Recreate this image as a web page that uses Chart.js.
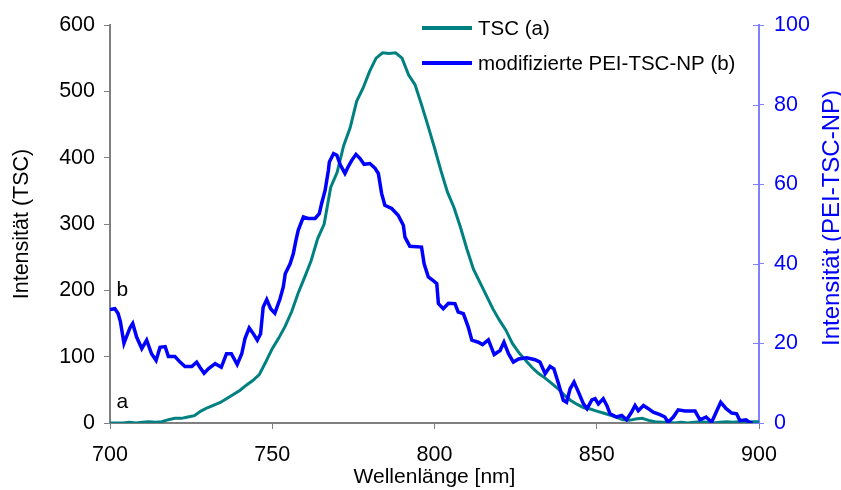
<!DOCTYPE html>
<html>
<head>
<meta charset="utf-8">
<script src="https://cdn.jsdelivr.net/npm/chart.js@4.4.1/dist/chart.umd.min.js"></script>
<style>
  body { margin: 0; background: #fff; }
  #wrap { width: 841px; height: 490px; }
</style>
</head>
<body>
<div id="wrap"><canvas id="spektrum"></canvas></div>
<script>
// Daten
const tscLambda = [700, 702, 704, 706, 708, 710, 712, 714, 716, 718, 720, 722, 724, 726, 728, 730,
  732, 734, 736, 738, 740, 742, 744, 746, 748, 750, 752, 754, 756, 758, 760, 762, 764, 766, 768, 770,
  772, 774, 776, 778, 780, 782, 784, 786, 788, 790, 792, 794, 796, 798, 800, 802, 804, 806, 808, 810,
  812, 814, 816, 818, 820, 822, 824, 826, 828, 830, 832, 834, 836, 838, 840, 842, 844, 846, 848, 850,
  852, 854, 856, 858, 860, 862, 864, 866, 868, 870, 872, 874, 876, 878, 880, 882, 884, 886, 888, 890,
  892, 894, 896, 898, 900];
const tscWerte = [0, 0, 0, 1, 0, 1, 2, 1, 2, 5, 7, 7, 9, 11, 18, 23,
  27, 31, 37, 43, 49, 57, 64, 73, 92, 112, 128, 146, 168, 196, 220, 245, 278, 300, 355, 378,
  418, 445, 485, 505, 530, 550, 558, 557, 558, 550, 525, 510, 480, 448, 415, 380, 348, 325, 295, 262,
  232, 212, 192, 172, 155, 140, 120, 106, 95, 84, 75, 68, 60, 52, 42, 34, 28, 23, 21, 18,
  15, 12, 9, 5, 4, 6, 7, 4, 2, 1, 1, 0, 1, 0, 1, 2, 1, 0, 1, 2,
  1, 2, 1, 2, 2];

const npLambda = [700, 701.5, 702.5, 703.2, 704.3, 705, 706.2, 707, 708.2, 709.8, 711.3, 712.8, 714.2,
  715.4, 717, 718, 720, 721.6, 723.1, 725.2, 726.7, 727.7, 729, 730.3, 732.4, 734.3, 735.9, 737.4,
  739.2, 740.6, 741.6, 742.9, 744.2, 745.4, 746.4, 747.2, 748.3, 749.5, 750.8, 752.4, 753.4, 754,
  755.5, 756.5, 757.3, 758, 759.6, 761.1, 763.2, 764.5, 765.2, 766.3, 767.3, 767.6, 768.9, 769.9,
  771, 772.4, 773.4, 774.5, 775.8, 777, 778.3, 780.1, 781.7, 782.7, 783.7, 784.7, 786.8, 788.8,
  790.4, 790.9, 792.4, 796, 796.8, 798.1, 799.6, 800.7, 801.2, 802.7, 804.3, 806.3, 807.3, 808.9,
  810.4, 811.5, 813.5, 814.8, 816.6, 818.4, 820.2, 821.4, 822.8, 824.3, 825.9, 828.4, 831, 832.5,
  834.1, 835.6, 836.8, 838.2, 839.7, 840.7, 841.8, 843, 844.4, 845.9, 847, 848.5, 849.5, 850.5,
  852, 853.1, 854.1, 856.1, 857.7, 859.2, 860.7, 861.8, 862.8, 864.4, 865.9, 867.4, 869.5, 871,
  872, 873.6, 875.1, 877.2, 880.3, 881.8, 883.7, 885.4, 887, 888.2, 889.9, 891.6, 893.1, 894.1,
  896, 897, 898];
const npWerte = [28.5, 28.7, 27.5, 25.5, 20, 21.5, 24, 25, 21.6, 18.7, 20.8, 17.4, 15.7,
  19, 19.2, 16.7, 16.7, 15.3, 14.2, 14.2, 15.3, 14, 12.5, 13.6, 14.9, 14, 17.4, 17.4,
  14.7, 17.4, 21.2, 23.9, 22.4, 20.8, 22.4, 29.1, 31, 28.7, 27.6, 31.2, 34.2, 37.5,
  40, 42.6, 45.9, 48.4, 51.8, 51.4, 51.4, 52.6, 55.1, 58.5, 63.5, 65.6, 67.7, 67.3,
  64.8, 62.7, 64.4, 66, 67.5, 66.5, 65, 65.2, 64, 62.7, 57.7, 54.7, 53.9, 52.2,
  49.7, 46.7, 44.4, 44.2, 40, 36.7, 35.8, 35, 30, 28.7, 30.1, 30, 27.9, 27.5,
  24.1, 20.8, 20.3, 19.7, 20.9, 17.2, 18.2, 20.3, 17.4, 15.3, 16.1, 16.4, 15.9, 15.3,
  12.4, 14.2, 13.6, 9.9, 5.7, 5.2, 8.6, 10.3, 7.7, 4.8, 3.6, 5.8, 6.1, 4.8,
  6.1, 4.4, 2.3, 1.5, 1.9, 0.8, 2.7, 4.4, 3.1, 4.4, 3.6, 2.7, 2.1, 1.5,
  0.2, 1.5, 3.3, 3, 3, 0.8, 1.5, 0.2, 3.1, 5.2, 3.6, 2.5, 2.3, 0.6,
  0.8, 0.2, 0];

const xTicks = [700, 750, 800, 850, 900];
const yLinksTicks = [0, 100, 200, 300, 400, 500, 600];
const yRechtsTicks = [0, 20, 40, 60, 80, 100];

// Kurvenbeschriftungen a / b (x in nm, y auf linker Achse)
const kurvenLabels = ['a', 'b'];
const kurvenLabelX = [702, 702];
const kurvenLabelY = [32, 200];

const FONT = 'Liberation Sans, Arial, sans-serif';
const teal = '#008080';
const blau = '#0000ff';

// Legende, Labels a/b, rechter Achsentitel und Innenstriche der rechten Achse
const extras = {
  id: 'extras',
  afterDraw(chart) {
    const ctx = chart.ctx;
    const xs = chart.scales.x, yl = chart.scales.y, yr = chart.scales.y2;
    ctx.save();

    // Innenstriche rechte Achse
    ctx.strokeStyle = '#8080ff';
    ctx.lineWidth = 1;
    yRechtsTicks.forEach(function (t) {
      const py = Math.round(yr.getPixelForValue(t)) + 0.5;
      ctx.beginPath();
      ctx.moveTo(yr.left - 6, py);
      ctx.lineTo(yr.left, py);
      ctx.stroke();
    });

    // Legende
    ctx.font = '20.5px ' + FONT;
    ctx.textBaseline = 'middle';
    ctx.textAlign = 'left';
    chart.data.datasets.forEach(function (ds, i) {
      const ly = 28 + i * 35;
      ctx.strokeStyle = ds.borderColor;
      ctx.lineWidth = 4;
      ctx.beginPath();
      ctx.moveTo(422, ly);
      ctx.lineTo(472, ly);
      ctx.stroke();
      ctx.fillStyle = '#000';
      ctx.fillText(ds.label, 478, ly + 1);
    });

    // a / b
    ctx.font = '21px ' + FONT;
    kurvenLabels.forEach(function (txt, i) {
      ctx.fillText(txt, xs.getPixelForValue(kurvenLabelX[i]), yl.getPixelForValue(kurvenLabelY[i]));
    });

    // rechter Achsentitel, von unten nach oben
    ctx.font = '24px ' + FONT;
    ctx.fillStyle = blau;
    ctx.textAlign = 'center';
    ctx.translate(832, 218);
    ctx.rotate(-Math.PI / 2);
    ctx.fillText('Intensität (PEI-TSC-NP)', 0, 0);
    ctx.restore();
  }
};

document.addEventListener('DOMContentLoaded', function () {
  const ctx = document.getElementById('spektrum').getContext('2d');

  new Chart(ctx, {
    type: 'line',
    data: {
      datasets: [{
        label: 'TSC (a)',
        data: tscLambda.map(function (l, i) { return { x: l, y: tscWerte[i] }; }),
        borderColor: teal,
        borderWidth: 3,
        pointRadius: 0,
        tension: 0,
        yAxisID: 'y',
        order: 2
      }, {
        label: 'modifizierte PEI-TSC-NP (b)',
        data: npLambda.map(function (l, i) { return { x: l, y: npWerte[i] }; }),
        borderColor: blau,
        borderWidth: 3.5,
        pointRadius: 0,
        tension: 0,
        yAxisID: 'y2',
        order: 1
      }]
    },
    options: {
      responsive: true,
      maintainAspectRatio: false,
      animation: false,
      layout: { padding: { top: 25, left: 0, right: 0, bottom: 0 } },
      plugins: {
        legend: { display: false },
        tooltip: { enabled: false }
      },
      scales: {
        x: {
          type: 'linear',
          min: 700,
          max: 900,
          afterBuildTicks: function (s) { s.ticks = xTicks.map(function (v) { return { value: v }; }); },
          afterFit: function (s) { s.height = 67; },
          grid: { drawOnChartArea: false, drawTicks: true, tickLength: 6, color: '#808080' },
          border: { display: true, color: '#808080', width: 2 },
          ticks: { color: '#000', font: { family: FONT, size: 21.5 }, padding: 13, maxRotation: 0 },
          title: { display: true, text: 'Wellenlänge [nm]', color: '#000', font: { family: FONT, size: 21 }, padding: { top: 0, bottom: 0 } }
        },
        y: {
          position: 'left',
          min: 0,
          max: 600,
          afterBuildTicks: function (s) { s.ticks = yLinksTicks.map(function (v) { return { value: v }; }); },
          afterFit: function (s) { s.width = 110; },
          grid: { drawOnChartArea: false, drawTicks: true, tickLength: 6, color: '#808080' },
          border: { display: true, color: '#808080', width: 2 },
          ticks: { color: '#000', font: { family: FONT, size: 21.5 }, padding: 9 },
          title: { display: true, text: 'Intensität (TSC)', color: '#000', font: { family: FONT, size: 21.5 }, padding: { top: 9, bottom: 0 } }
        },
        y2: {
          position: 'right',
          min: 0,
          max: 100,
          afterBuildTicks: function (s) { s.ticks = yRechtsTicks.map(function (v) { return { value: v }; }); },
          afterFit: function (s) { s.width = 82; },
          grid: { drawOnChartArea: false, drawTicks: true, tickLength: 5, color: '#8080ff' },
          border: { display: true, color: '#8080ff', width: 2 },
          ticks: { color: blau, font: { family: FONT, size: 21.5 }, padding: 10 }
        }
      }
    },
    plugins: [extras]
  });
});
</script>
</body>
</html>
